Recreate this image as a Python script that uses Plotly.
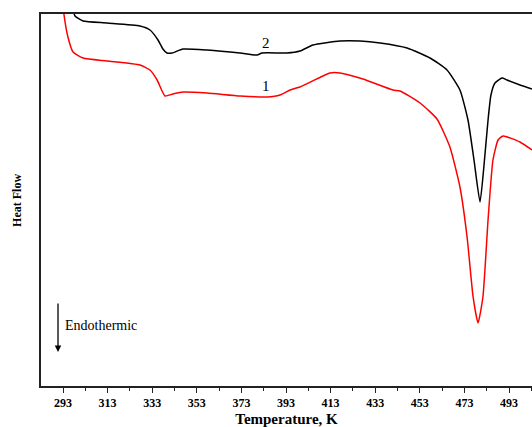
import plotly.graph_objects as go

# Curve 2 (black)
t2 = [297.5, 298.4, 302.0, 312.7, 327.5, 332.0, 335.6, 337.8, 339.6, 341.9, 346.8, 357.6, 372.4,
      380.0, 382.2, 390.3, 393.4, 399.3, 405.1, 417.2, 426.2, 435.2, 447.3, 457.6, 465.2, 471.0,
      474.6, 477.3, 480.0, 481.8, 483.6, 484.9, 486.7, 489.9, 492.1, 497.9, 503.3]
h2 = [37.6, 37.0, 36.5, 36.3, 36.0, 35.6, 34.6, 33.7, 33.3, 33.3, 33.7, 33.6, 33.3,
      33.1, 33.3, 33.3, 33.3, 33.5, 34.1, 34.5, 34.5, 34.3, 33.8, 32.8, 31.6, 29.6,
      26.6, 22.6, 18.4, 22.1, 26.6, 29.1, 30.3, 30.8, 30.6, 30.1, 29.7]

# Curve 1 (red)
t1 = [293.0, 293.4, 295.2, 297.5, 302.0, 312.7, 327.5, 332.0, 335.2, 338.7, 342.3, 346.8, 357.6,
      372.4, 384.5, 390.3, 394.8, 399.3, 412.7, 417.2, 427.5, 441.0, 444.1, 453.1, 460.7, 466.5,
      471.0, 474.2, 476.9, 479.1, 481.3, 483.6, 485.8, 488.1, 490.3, 497.9, 503.3]
h1 = [38.1, 37.2, 34.9, 33.4, 32.8, 32.5, 32.1, 31.6, 30.6, 29.0, 29.2, 29.4, 29.3,
      29.0, 28.9, 29.1, 29.6, 29.9, 31.3, 31.3, 30.7, 29.6, 29.5, 28.3, 26.7, 23.9,
      19.9, 14.9, 8.9, 6.3, 8.9, 16.6, 22.6, 24.6, 25.0, 24.4, 23.6]

tick_vals = [293, 313, 333, 353, 373, 393, 413, 433, 453, 473, 493]
tick_text = [str(v) for v in tick_vals]

FONT = "Liberation Serif"

fig = go.Figure()
fig.add_trace(go.Scatter(x=t2, y=h2, mode="lines", line=dict(color="black", width=1.5, shape="spline", smoothing=0.5), showlegend=False))
fig.add_trace(go.Scatter(x=t1, y=h1, mode="lines", line=dict(color="#ff0000", width=1.5, shape="spline", smoothing=0.5), showlegend=False))

fig.update_layout(
    width=532, height=427,
    margin=dict(l=41, r=0, t=14, b=41),
    paper_bgcolor="white", plot_bgcolor="white",
    font=dict(family=FONT, color="black"),
    xaxis=dict(
        range=[283.13, 503.31], showgrid=False, zeroline=False,
        showline=True, linecolor="#222", linewidth=1.5, mirror=True,
        ticks="outside", ticklen=5, tickwidth=1.2, tickcolor="#222",
        tickvals=tick_vals, ticktext=tick_text,
        tickfont=dict(family=FONT, size=12, color="black", weight="bold"),
        minor=dict(dtick=10, tick0=283, ticks="outside", ticklen=3, tickwidth=1, tickcolor="#222"),
        title=dict(text="<b>Temperature, K</b>", font=dict(family=FONT, size=15), standoff=4),
    ),
    yaxis=dict(
        range=[0, 37.2], showgrid=False, zeroline=False, showticklabels=False,
        showline=True, linecolor="#222", linewidth=1.5, ticks="",
    ),
    annotations=[
        dict(x=384.0, y=34.3, xref="x", yref="y", text="2", showarrow=False,
             font=dict(family=FONT, size=15)),
        dict(x=384.0, y=30.0, xref="x", yref="y", text="1", showarrow=False,
             font=dict(family=FONT, size=15)),
        dict(x=290.76, y=3.4, xref="x", yref="y", ax=290.76, ay=8.4, axref="x", ayref="y",
             text="", showarrow=True, arrowhead=2, arrowsize=1, arrowwidth=1.3, arrowcolor="black"),
        dict(x=293.2, y=6.1, xref="x", yref="y", text="Endothermic", showarrow=False,
             xanchor="left", font=dict(family=FONT, size=14)),
        dict(x=-0.049, y=0.5, xref="paper", yref="paper", text="<b>Heat Flow</b>", textangle=-90,
             xanchor="center", yanchor="middle",
             showarrow=False, font=dict(family=FONT, size=12)),
    ],
)

fig.write_html(
    "out.html",
    config={"displayModeBar": False},
    post_script="document.documentElement.style.overflow='hidden';document.body.style.margin='0';document.body.style.overflow='hidden';",
)
